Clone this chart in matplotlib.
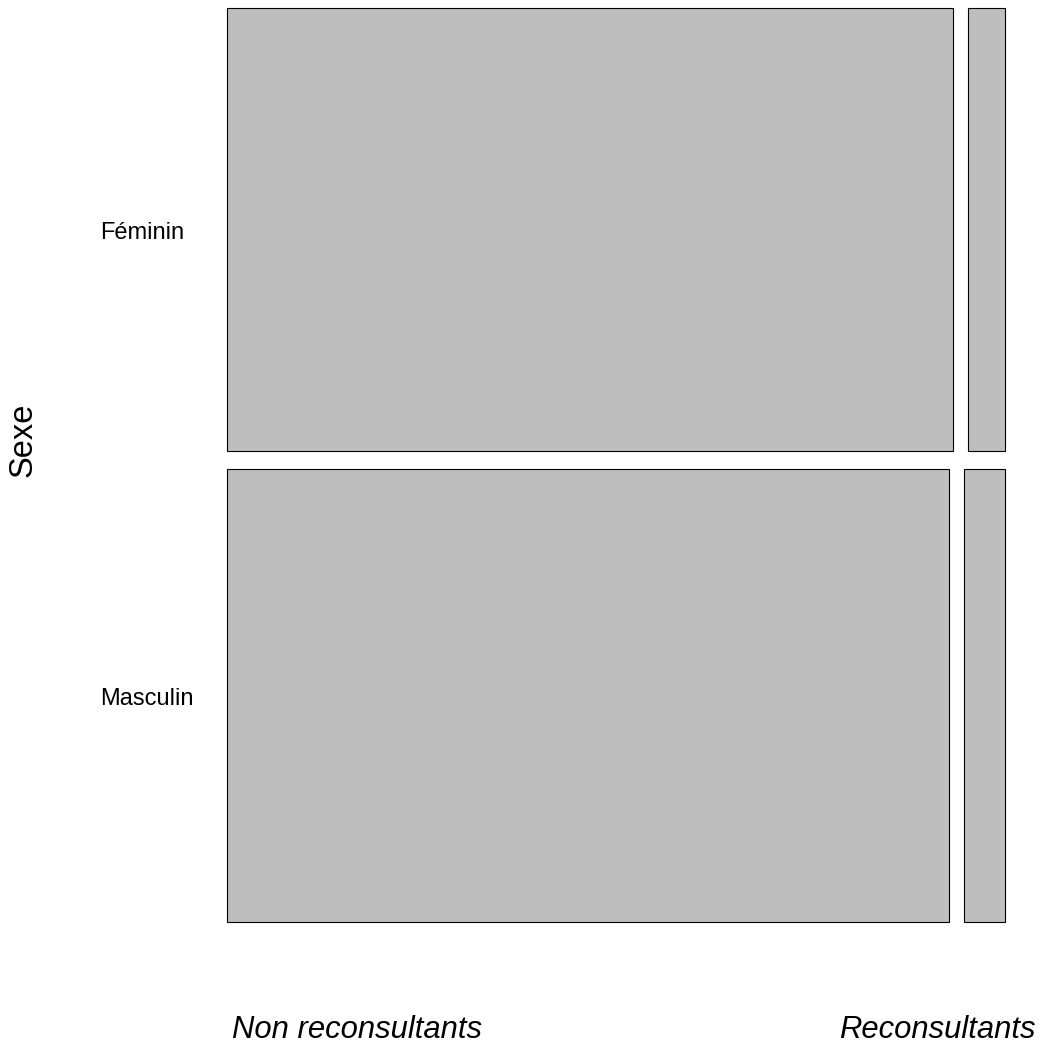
import matplotlib.pyplot as plt
from matplotlib.patches import Rectangle
from matplotlib.transforms import blended_transform_factory, offset_copy

plt.rcParams['font.family'] = ['Liberation Sans', 'DejaVu Sans']

# counts (rows = Sexe, columns = reconsultation)
sexe = ['Féminin', 'Masculin']
groupes = ['Non reconsultants', 'Reconsultants']
non_reconsultants = [470, 478]
reconsultants = [24, 27]

W, H = 1043, 1045
fig = plt.figure(figsize=(W / 100, H / 100), dpi=100)
ax = fig.add_axes([227 / W, 1 - 922 / H, 778 / W, 914 / H])
ax.set_xlim(0, 1)
ax.set_ylim(0, 1)
ax.axis('off')

hgap = 15 / 778
vgap = 18 / 914

totals = [a + b for a, b in zip(non_reconsultants, reconsultants)]
grand = sum(totals)
rowtrans = blended_transform_factory(fig.transFigure, ax.transData)
rowtrans = offset_copy(rowtrans, fig=fig, y=-3, units='dots')

top = 1.0
for i, lab in enumerate(sexe):
    h = totals[i] / grand * (1 - vgap)
    y0 = top - h
    w0 = non_reconsultants[i] / totals[i] * (1 - hgap)
    ax.add_patch(Rectangle((0, y0), w0, h, facecolor='#bebebe',
                           edgecolor='black', linewidth=0.8, clip_on=False))
    ax.add_patch(Rectangle((w0 + hgap, y0), 1 - hgap - w0, h,
                           facecolor='#bebebe', edgecolor='black',
                           linewidth=0.8, clip_on=False))
    ax.text(100 / W, y0 + h / 2, lab, transform=rowtrans, ha='left',
            va='center', fontsize=17)
    top = y0 - vgap

fig.text(23 / W, 1 - 440 / H, 'Sexe', rotation=90, ha='center', va='center',
         fontsize=23.5)
fig.text(232 / W, 1 - 1038 / H, groupes[0], ha='left', va='baseline',
         fontsize=22.3, style='italic')
fig.text(1036 / W, 1 - 1038 / H, groupes[1], ha='right', va='baseline',
         fontsize=22.3, style='italic')

fig.savefig('out.png', dpi=100)
